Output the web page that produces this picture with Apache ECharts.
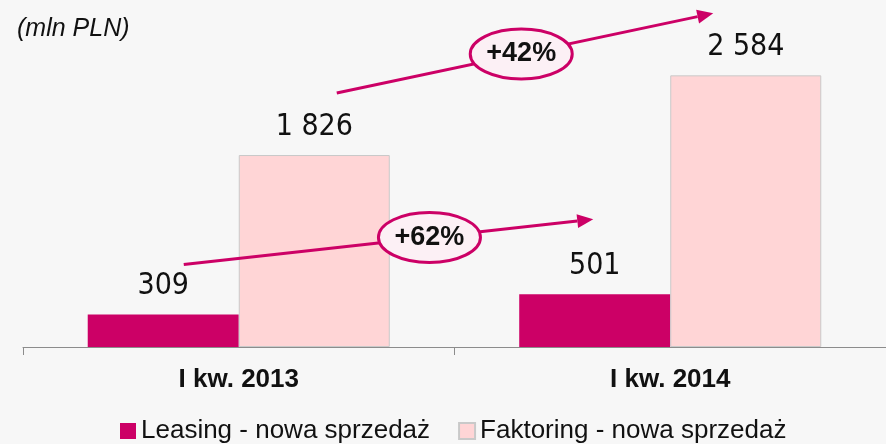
<!DOCTYPE html>
<html>
<head>
<meta charset="utf-8">
<script src="https://cdn.jsdelivr.net/npm/echarts@6/dist/echarts.min.js"></script>
<style>
  html, body { margin: 0; padding: 0; background: #f7f7f7; }
  #chart { width: 886px; height: 444px; }
</style>
</head>
<body>
<div id="chart"></div>
<script>
var categories = ["I kw. 2013", "I kw. 2014"];
var leasing = [309, 501];
var faktoring = [1826, 2584];
var seriesNames = ["Leasing - nowa sprzedaż", "Faktoring - nowa sprzedaż"];
var growthLabels = ["+62%", "+42%"];

var PINK = "#cc0066";
var LIGHT = "#ffd5d6";
var numFont = "'Liberation Sans Narrow', 'DejaVu Sans Condensed', sans-serif";

// "1826" -> "1 826"
function fmt(v) {
  return String(v).replace(/\B(?=(\d{3})+(?!\d))/g, " ");
}

var myChart = echarts.init(document.getElementById("chart"));
var option = {
  backgroundColor: "#f7f7f7",
  animation: false,
  title: {
    text: "(mln PLN)",
    left: 17,
    top: 17,
    padding: 0,
    textStyle: {
      fontFamily: "'Liberation Sans', sans-serif",
      fontStyle: "italic",
      fontWeight: "normal",
      fontSize: 25,
      color: "#111",
    },
  },
  grid: {
    left: 23,
    width: 866,
    top: 31.6,
    bottom: 97,
  },
  legend: {
    left: 115,
    top: 413,
    itemWidth: 16,
    itemHeight: 16,
    itemGap: 28,
    icon: "rect",
    textStyle: {
      fontFamily: "'Liberation Sans', sans-serif",
      fontSize: 26,
      color: "#111",
    },
    data: seriesNames,
  },
  xAxis: {
    type: "category",
    data: categories,
    axisLine: { lineStyle: { color: "#8c8c8c", width: 1 } },
    axisTick: { show: true, length: 8, lineStyle: { color: "#8c8c8c" } },
    axisLabel: {
      margin: 20,
      fontFamily: "'Liberation Sans', sans-serif",
      fontWeight: "bold",
      fontSize: 26,
      color: "#111",
    },
  },
  yAxis: {
    type: "value",
    min: 0,
    max: 3000,
    show: false,
    splitLine: { show: false },
  },
  series: [
    {
      name: seriesNames[0],
      type: "bar",
      data: leasing,
      barWidth: "35%",
      barGap: "0%",
      itemStyle: { color: PINK },
      label: {
        show: true,
        position: "top",
        distance: 13,
        fontFamily: numFont,
        fontSize: 30,
        color: "#111",
        formatter: function (p) { return fmt(p.value); },
      },
    },
    {
      name: seriesNames[1],
      type: "bar",
      data: faktoring,
      barWidth: "35%",
      barGap: "0%",
      itemStyle: { color: LIGHT, borderColor: "#c9c9c9", borderWidth: 1 },
      label: {
        show: true,
        position: "top",
        distance: 13,
        fontFamily: numFont,
        fontSize: 30,
        color: "#111",
        formatter: function (p) { return fmt(p.value); },
      },
    },
  ],
};
myChart.setOption(option);

// growth arrows, anchored on the bars they compare
function arrow(a, b, label, t) {
  var dx = b[0] - a[0], dy = b[1] - a[1];
  var len = Math.sqrt(dx * dx + dy * dy);
  var ux = dx / len, uy = dy / len;
  var head = 16, half = 7;
  var base = [b[0] - ux * head, b[1] - uy * head];
  var cx = a[0] + dx * t, cy = a[1] + dy * t;
  return [
    {
      type: "line",
      shape: { x1: a[0], y1: a[1], x2: base[0], y2: base[1] },
      style: { stroke: PINK, lineWidth: 3 },
      z: 100,
    },
    {
      type: "polygon",
      shape: {
        points: [
          b,
          [base[0] - uy * half, base[1] + ux * half],
          [base[0] + uy * half, base[1] - ux * half],
        ],
      },
      style: { fill: PINK },
      z: 100,
    },
    {
      type: "ellipse",
      shape: { cx: cx, cy: cy, rx: 51, ry: 25 },
      style: { fill: "#fcf0f5", stroke: PINK, lineWidth: 3 },
      z: 101,
    },
    {
      type: "text",
      x: cx,
      y: cy,
      style: {
        text: label,
        fill: "#111",
        font: "bold 27px 'Liberation Sans', sans-serif",
        align: "center",
        verticalAlign: "middle",
      },
      z: 102,
    },
  ];
}

function drawArrows() {
  // convertToPixel gives the category centre and the bar top
  var l0 = myChart.convertToPixel({ seriesIndex: 0 }, [0, leasing[0]]);
  var l1 = myChart.convertToPixel({ seriesIndex: 0 }, [1, leasing[1]]);
  var f0 = myChart.convertToPixel({ seriesIndex: 1 }, [0, faktoring[0]]);
  var f1 = myChart.convertToPixel({ seriesIndex: 1 }, [1, faktoring[1]]);
  var els = []
    .concat(arrow([l0[0] - 55, l0[1] - 50], [l1[0] - 77, l1[1] - 75], growthLabels[0], 0.6))
    .concat(arrow([f0[0] + 98, f0[1] - 62], [f1[0] + 43, f1[1] - 62], growthLabels[1], 0.49));
  myChart.setOption({ graphic: { elements: els } });
}
drawArrows();

window.addEventListener("resize", function () {
  myChart.resize();
  drawArrows();
});
</script>
</body>
</html>
